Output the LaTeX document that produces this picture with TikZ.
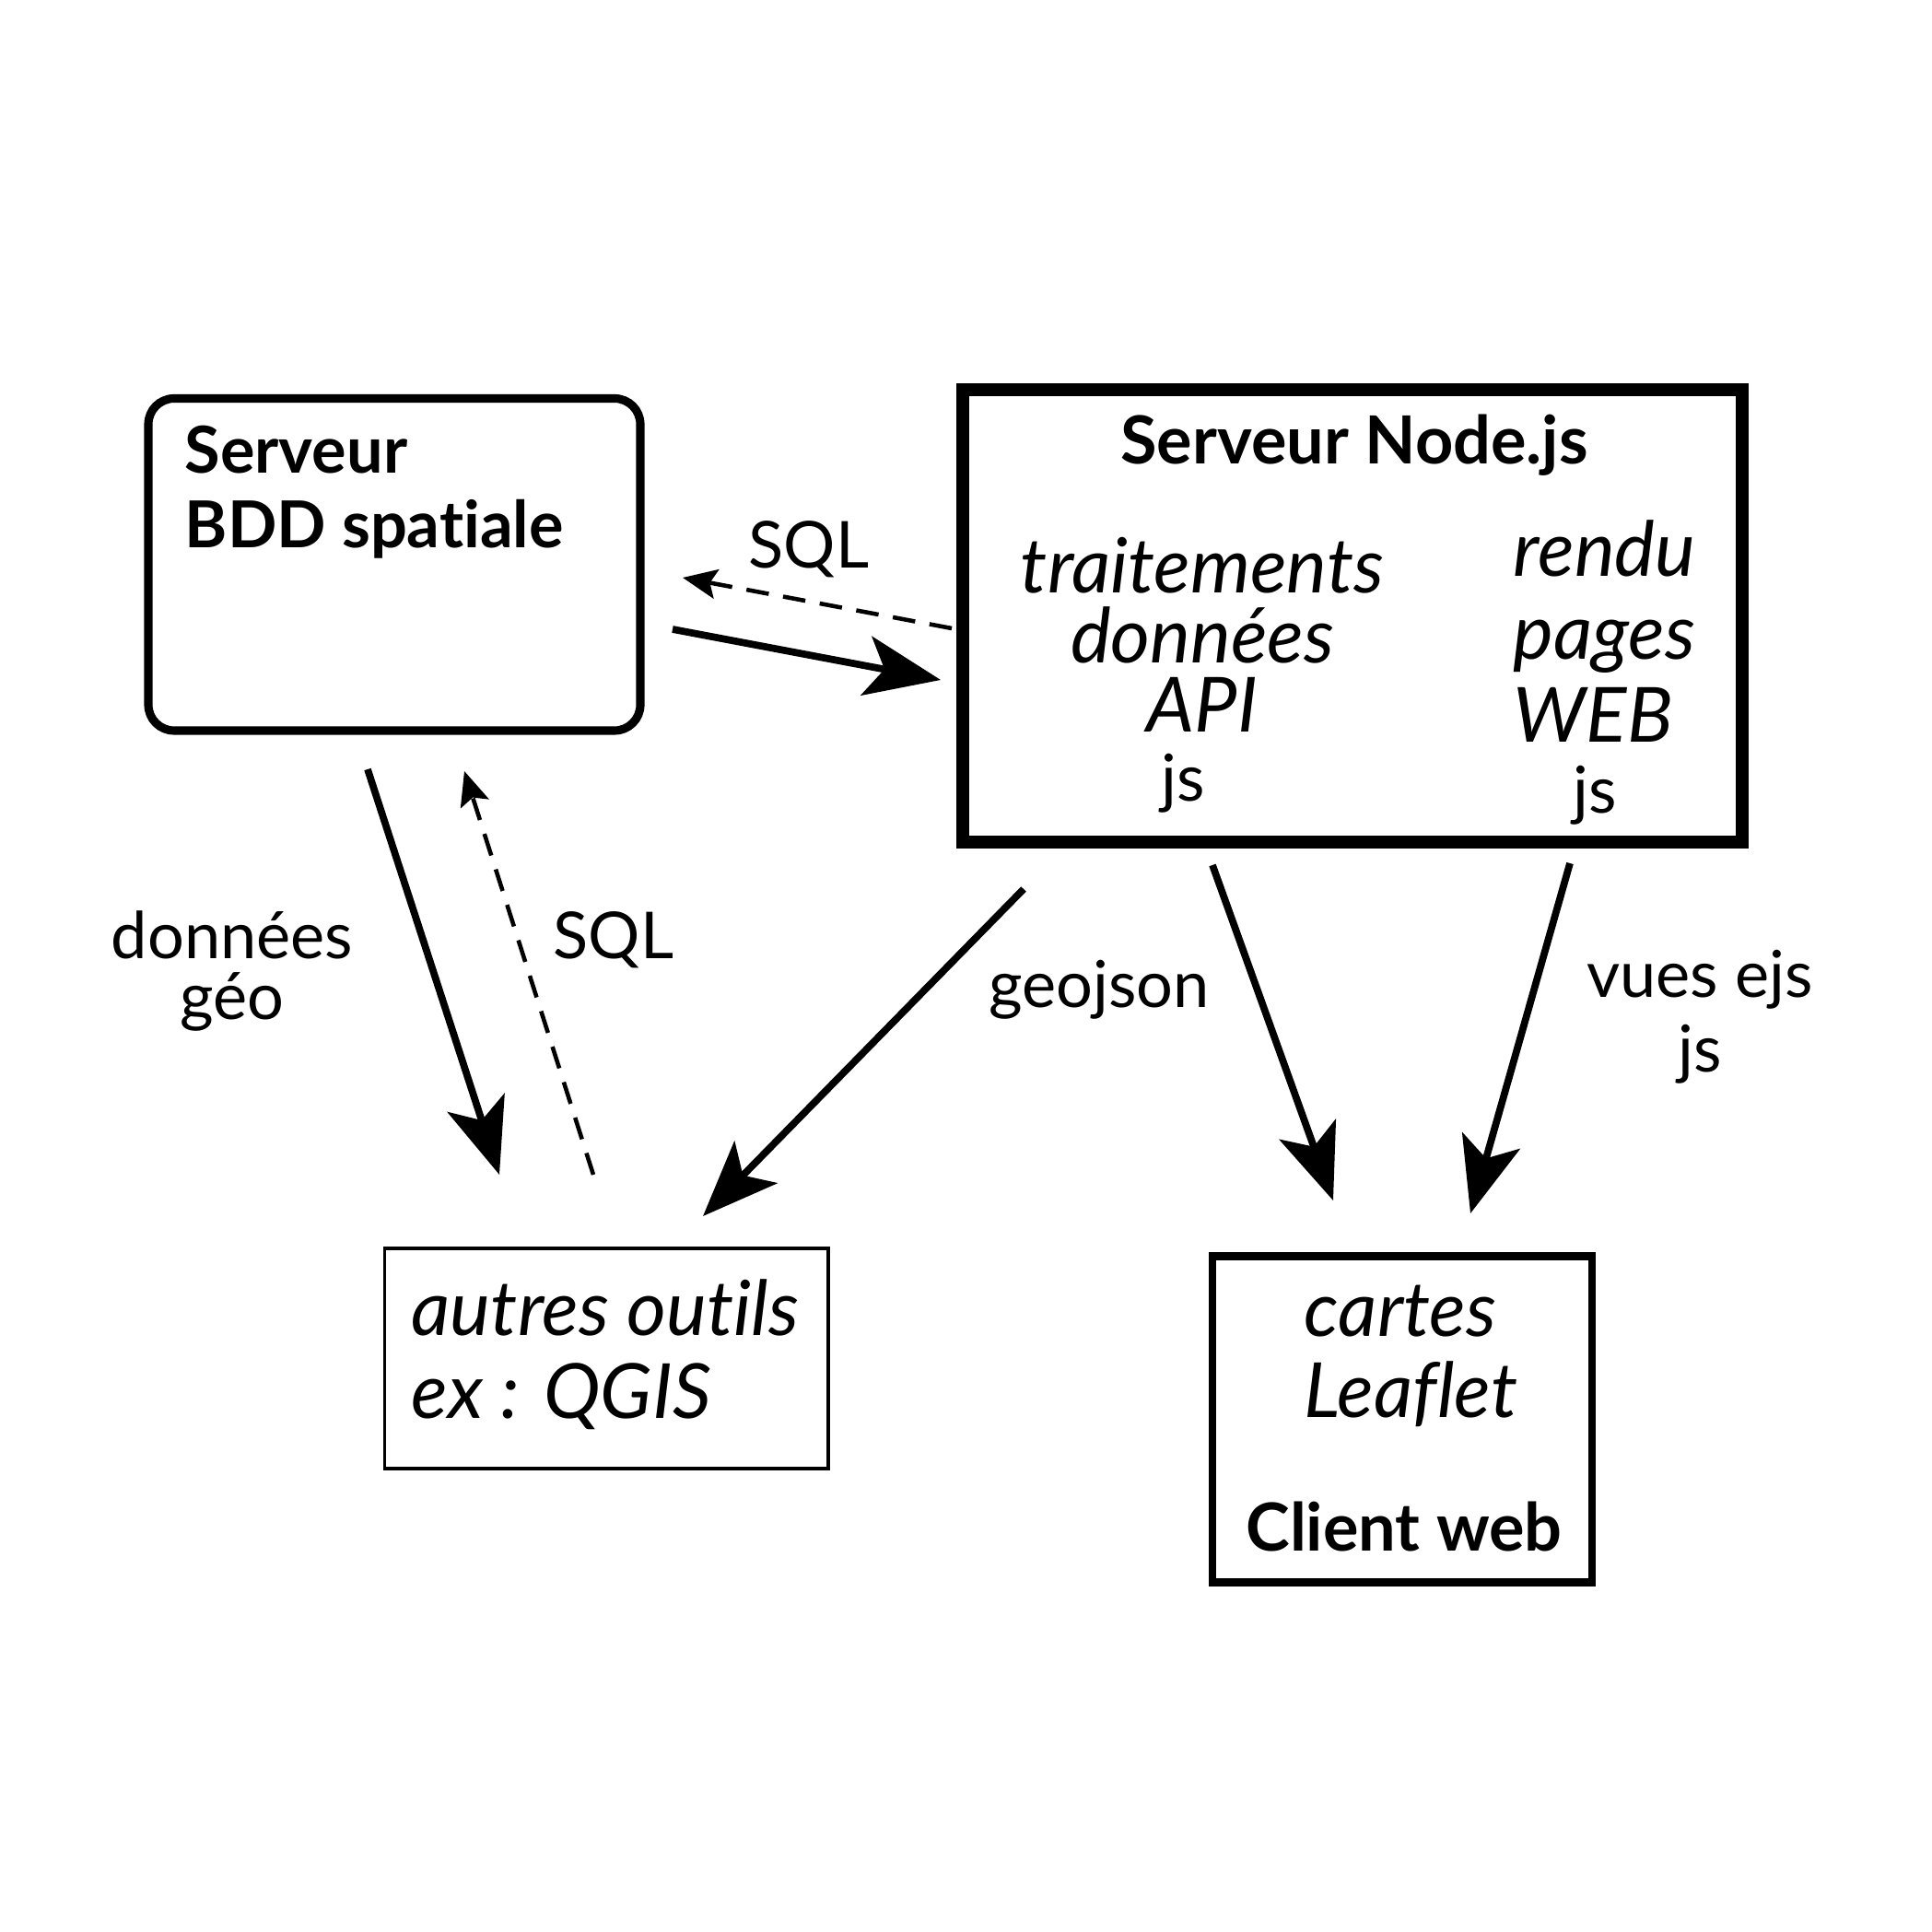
\documentclass[tikz,border=0pt]{standalone}
\usepackage{fontspec}
\setmainfont{Lato}[Ligatures=NoCommon]
\usetikzlibrary{arrows.meta}

\tikzset{
bddbox/.style={draw, line width=2.6pt, rounded corners=0.28cm, inner sep=0},
nodebox/.style={draw, line width=4pt, inner sep=0},
outilbox/.style={draw, line width=1.1pt, inner sep=0},
clientbox/.style={draw, line width=2.3pt, inner sep=0},
titre/.style={font=\fontsize{20.5}{23.3}\selectfont\bfseries, inner sep=0},
ital/.style={font=\fontsize{23.5}{21}\selectfont\itshape, inner sep=0},
fin/.style={font=\fontsize{20}{20}\selectfont, inner sep=0},
fleche/.style={line width=2.2pt, -{Stealth[length=0.82cm, width=0.65cm, inset=0.2cm]}},
requete/.style={line width=1.3pt, dash pattern=on 7pt off 4.5pt, -{Stealth[length=0.37cm, width=0.32cm, inset=0.07cm]}}
}

\begin{document}
\begin{tikzpicture}
\useasboundingbox (0,0) rectangle (20.96,-20.97);
\node[bddbox, minimum width=5.34cm, minimum height=3.605cm] (bdd) at (4.28,-6.1275) {};
\node[nodebox, minimum width=8.46cm, minimum height=4.91cm] (nodejs) at (14.68,-6.685) {};
\node[outilbox, minimum width=4.815cm, minimum height=2.39cm] (outils) at (6.5825,-14.745) {};
\node[clientbox, minimum width=4.12cm, minimum height=3.54cm] (client) at (15.22,-15.405) {};

\node[titre, font=\fontsize{20}{23.3}\selectfont\bfseries, align=left, anchor=base west] (bddtxt) at (2.00,-5.95) {Serveur\\BDD spatiale};
\node[titre, anchor=base] (nodetitre) at (14.70,-5.04) {Serveur Node.js};
\node[ital, font=\fontsize{23.5}{21.6}\selectfont\itshape, align=center, anchor=base] (api) at (13.05,-7.95) {traitements\\données\\API};
\node[fin, anchor=base] (apijs) at (12.84,-8.70) {js};
\node[ital, font=\fontsize{23.5}{25.6}\selectfont\itshape, align=left, anchor=base west] (rendu) at (16.42,-8.05) {rendu\\pages\\WEB};
\node[fin, anchor=base] (rendujs) at (17.31,-8.82) {js};
\node[ital, font=\fontsize{23.5}{25.6}\selectfont\itshape, align=left, anchor=base west] (outilstxt) at (4.46,-15.39) {autres outils\\ex : QGIS};
\node[ital, font=\fontsize{23.5}{25}\selectfont\itshape, align=left, anchor=base west] (cartes) at (14.15,-15.38) {cartes\\Leaflet};
\node[titre, anchor=base] (clienttxt) at (15.24,-16.83) {Client web};

\node[fin, anchor=base] (sqlA) at (8.78,-6.17) {SQL};
\node[fin, font=\fontsize{20}{18.5}\selectfont, align=center, anchor=base] (geo) at (2.52,-11.06) {données\\géo};
\node[fin, anchor=base] (sqlB) at (6.66,-10.40) {SQL};
\node[fin, anchor=base] (geojson) at (11.93,-10.93) {geojson};
\node[fin, font=\fontsize{20}{23}\selectfont, align=center, anchor=base] (ejs) at (18.45,-11.63) {vues ejs\\js};

\coordinate (bddout) at (7.30,-6.83);
\coordinate (nodein) at (10.21,-7.38);
\draw[fleche] (bddout) -- (nodein);
\coordinate (nodeout) at (10.33,-6.82);
\coordinate (bddin) at (7.41,-6.27);
\draw[requete] (nodeout) -- (bddin);
\coordinate (geohaut) at (3.99,-8.35);
\coordinate (geobas) at (5.42,-12.75);
\draw[fleche] (geohaut) -- (geobas);
\coordinate (sqlbas) at (6.44,-12.75);
\coordinate (sqlhaut) at (5.04,-8.37);
\draw[requete] (sqlbas) -- (sqlhaut);
\coordinate (jsonhaut) at (11.11,-9.65);
\coordinate (jsonbas) at (7.63,-13.20);
\draw[fleche] (jsonhaut) -- (jsonbas);
\coordinate (carteshaut) at (13.16,-9.39);
\coordinate (cartesbas) at (14.47,-13.03);
\draw[fleche] (carteshaut) -- (cartesbas);
\coordinate (ejshaut) at (17.04,-9.37);
\coordinate (ejsbas) at (15.96,-13.17);
\draw[fleche] (ejshaut) -- (ejsbas);
\end{tikzpicture}
\end{document}
